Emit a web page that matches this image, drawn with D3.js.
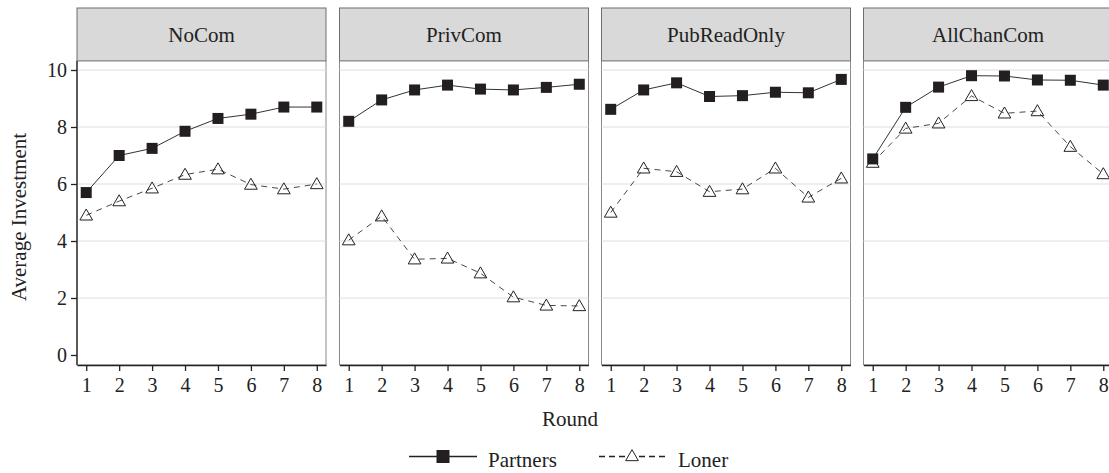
<!DOCTYPE html>
<html>
<head>
<meta charset="utf-8">
<script src="https://cdn.jsdelivr.net/npm/d3@7"></script>
<style>
  body { margin: 0; background: #fff; }
  svg text { font-family: "Liberation Serif", "DejaVu Serif", serif; fill: #222; }
</style>
</head>
<body>
<svg id="chart" width="1109" height="473"></svg>
<script>
// data
const panels = ["NoCom", "PrivCom", "PubReadOnly", "AllChanCom"];
const rounds = [1, 2, 3, 4, 5, 6, 7, 8];
const partners = [
    [5.7, 7.0, 7.25, 7.85, 8.3, 8.45, 8.7, 8.7],
    [8.2, 8.95, 9.3, 9.47, 9.33, 9.3, 9.39, 9.5],
    [8.62, 9.3, 9.55, 9.07, 9.1, 9.22, 9.2, 9.67],
    [6.88, 8.69, 9.4, 9.8, 9.79, 9.65, 9.64, 9.47]
];
const loner = [
    [4.9, 5.4, 5.85, 6.33, 6.52, 5.98, 5.82, 6.0],
    [4.03, 4.87, 3.36, 3.39, 2.87, 2.03, 1.74, 1.72],
    [5.0, 6.55, 6.43, 5.73, 5.82, 6.55, 5.53, 6.2],
    [6.75, 7.95, 8.13, 9.09, 8.48, 8.56, 7.31, 6.35]
];
const yTicks = [0, 2, 4, 6, 8, 10];
const gridTicks = [2, 4, 6, 8, 10];

const svg = d3.select("#chart");

// panel layout
const panelLeft = [77, 339.5, 601.5, 863.5];
const panelW = 249;
const stripTop = 8, stripBottom = 61, plotBottom = 365;

const y = d3.scaleLinear().domain([0, 10]).range([355, 70]);

const triangle = d3.symbol().type(d3.symbolTriangle).size(70);

panels.forEach(function(name, i) {
    let x0 = panelLeft[i];
    let x = d3.scaleLinear().domain([0.72, 8.28]).range([x0, x0 + panelW]);
    let g = svg.append("g").attr("class", "panel");

    // strip
    g.append("rect")
        .attr("x", x0).attr("y", stripTop)
        .attr("width", panelW).attr("height", stripBottom - stripTop)
        .attr("fill", "#d9d9d9").attr("stroke", "#6e6e6e").attr("stroke-width", 1);
    g.append("text")
        .attr("x", x0 + panelW / 2).attr("y", 42)
        .attr("text-anchor", "middle").attr("font-size", 21)
        .text(name);

    // plot background + grid
    g.append("rect")
        .attr("x", x0).attr("y", stripBottom)
        .attr("width", panelW).attr("height", plotBottom - stripBottom)
        .attr("fill", "#fff").attr("stroke", "#8a8a8a").attr("stroke-width", 1);
    g.selectAll("line.grid")
        .data(gridTicks)
        .join("line")
        .attr("class", "grid")
        .attr("x1", x0).attr("x2", x0 + panelW)
        .attr("y1", d => y(d)).attr("y2", d => y(d))
        .attr("stroke", "#dedede").attr("stroke-width", 1);

    // lines
    let line = d3.line().x((d, j) => x(rounds[j])).y(d => y(d));
    g.append("path")
        .attr("d", line(loner[i]))
        .attr("fill", "none").attr("stroke", "#333").attr("stroke-width", 0.9)
        .attr("stroke-dasharray", "6,5");
    g.append("path")
        .attr("d", line(partners[i]))
        .attr("fill", "none").attr("stroke", "#333").attr("stroke-width", 1);

    // markers
    g.selectAll("path.tri")
        .data(loner[i])
        .join("path")
        .attr("class", "tri")
        .attr("d", triangle)
        .attr("transform", (d, j) => "translate(" + x(rounds[j]) + "," + (y(d) + 1) + ")")
        .attr("fill", "none").attr("stroke", "#222").attr("stroke-width", 1);
    g.selectAll("rect.sq")
        .data(partners[i])
        .join("rect")
        .attr("class", "sq")
        .attr("x", (d, j) => x(rounds[j]) - 5.5)
        .attr("y", d => y(d) - 5.5)
        .attr("width", 11).attr("height", 11)
        .attr("fill", "#231f20");

    // x axis
    let xAxis = d3.axisBottom(x).tickValues(rounds).tickSize(6).tickPadding(7).tickSizeOuter(0);
    let ax = g.append("g")
        .attr("transform", "translate(0," + plotBottom + ")")
        .call(xAxis);
    ax.select(".domain").attr("stroke", "#222").attr("stroke-width", 1.3);
    ax.selectAll(".tick line").attr("stroke", "#222").attr("stroke-width", 1.3);
    ax.selectAll(".tick text").attr("font-size", 20).attr("font-family", "Liberation Serif").attr("fill", "#222");

    if (i === 0) {
        let yAxis = d3.axisLeft(y).tickValues(yTicks).tickSize(6).tickPadding(4).tickSizeOuter(0);
        let ay = g.append("g")
            .attr("transform", "translate(" + x0 + ",0)")
            .call(yAxis);
        ay.select(".domain").attr("d", "M0," + stripBottom + "V" + plotBottom)
            .attr("stroke", "#222").attr("stroke-width", 1.3);
        ay.selectAll(".tick line").attr("stroke", "#222").attr("stroke-width", 1.3);
        ay.selectAll(".tick text").attr("font-size", 20).attr("font-family", "Liberation Serif").attr("fill", "#222");
    }
});

// axis titles
svg.append("text")
    .attr("x", 570).attr("y", 426)
    .attr("text-anchor", "middle").attr("font-size", 21)
    .text("Round");
svg.append("text")
    .attr("transform", "translate(26,217) rotate(-90)")
    .attr("text-anchor", "middle").attr("font-size", 21)
    .text("Average Investment");

// legend
let leg = svg.append("g");
leg.append("line")
    .attr("x1", 409).attr("x2", 477).attr("y1", 456.5).attr("y2", 456.5)
    .attr("stroke", "#222").attr("stroke-width", 1.3);
leg.append("rect")
    .attr("x", 436.5).attr("y", 450).attr("width", 13).attr("height", 13)
    .attr("fill", "#231f20");
leg.append("text")
    .attr("x", 488).attr("y", 467).attr("font-size", 21)
    .text("Partners");
leg.append("line")
    .attr("x1", 599).attr("x2", 667).attr("y1", 456.5).attr("y2", 456.5)
    .attr("stroke", "#222").attr("stroke-width", 1.3)
    .attr("stroke-dasharray", "6,4");
leg.append("path")
    .attr("d", triangle)
    .attr("transform", "translate(632,457)")
    .attr("fill", "#fff").attr("stroke", "#222").attr("stroke-width", 1);
leg.append("text")
    .attr("x", 678).attr("y", 467).attr("font-size", 21)
    .text("Loner");
</script>
</body>
</html>
